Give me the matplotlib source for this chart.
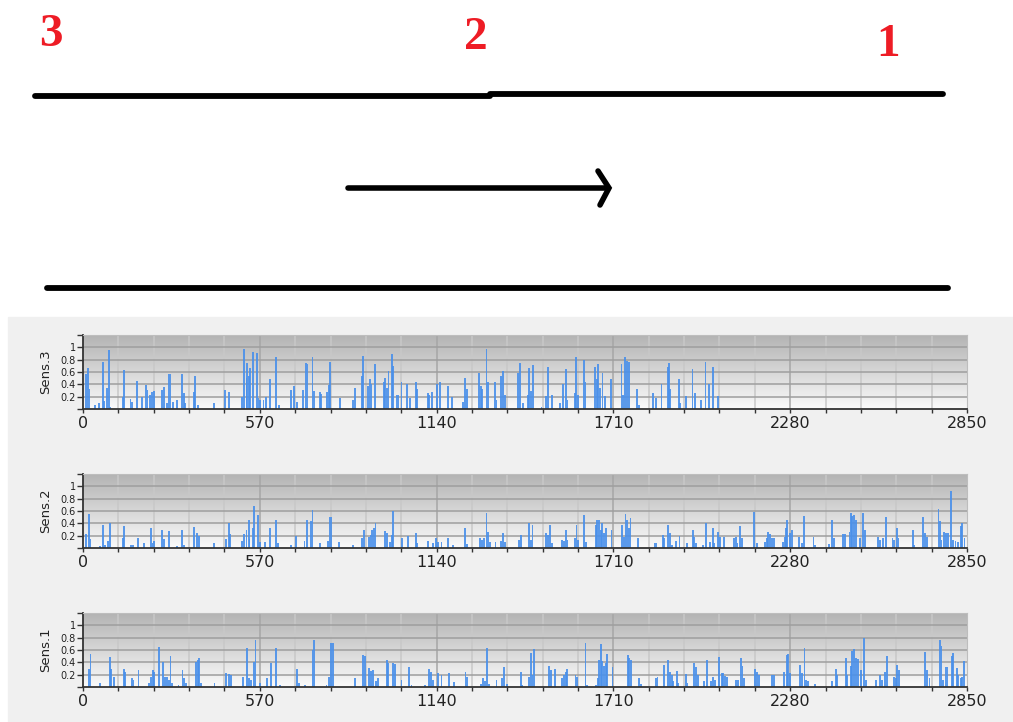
"""Sensor spike panels under a flow sketch (3 -> 2 -> 1)."""

import matplotlib
matplotlib.use("Agg")
import matplotlib.pyplot as plt
import numpy as np

# --- sketch (figure pixel coordinates, y down) ---
pipe_top_left = ([35, 490], [96, 96])
pipe_top_right = ([490, 943], [94, 94])
pipe_bottom = ([47, 948], [288, 288])
arrow_shaft = ([348, 606], [188, 188])
arrow_head = ([598, 609, 600], [171, 188, 205])
station_labels = ["3", "2", "1"]
station_pos = [(51, 35), (476, 38), (888, 45)]

# --- sensor spikes (sample index, amplitude) ---
sens3_x = [11, 15, 21, 40, 51, 64, 69, 77, 84, 88, 129, 131, 153, 158, 174, 190, 203, 208,
           215, 222, 228, 255, 260, 271, 276, 282, 290, 303, 319, 325, 330, 357, 362, 370,
           421, 459, 470, 513, 520, 527, 529, 534, 539, 547, 561, 566, 572, 582, 590, 602,
           623, 631, 671, 679, 690, 708, 720, 724, 740, 744, 763, 768, 787, 792, 797, 828,
           871, 877, 900, 903, 920, 925, 930, 941, 970, 975, 981, 985, 995, 1000, 1011,
           1017, 1027, 1045, 1054, 1073, 1078, 1111, 1116, 1126, 1142, 1151, 1178, 1191,
           1226, 1231, 1237, 1276, 1282, 1287, 1301, 1306, 1328, 1333, 1347, 1353, 1360,
           1403, 1409, 1419, 1435, 1439, 1443, 1452, 1478, 1492, 1500, 1511, 1538, 1548,
           1557, 1562, 1586, 1589, 1597, 1615, 1620, 1650, 1656, 1661, 1667, 1675, 1683,
           1702, 1736, 1742, 1748, 1754, 1760, 1787, 1793, 1838, 1846, 1865, 1885, 1889,
           1892, 1921, 1924, 1944, 1965, 1973, 1992, 2007, 2019, 2032, 2046]
sens3_val = [.56, .67, .32, .07, .1, .77, .13, .34, .95, .04, .2, .64, .17, .12, .45, .2, .39, .31,
             .23, .28, .3, .31, .35, .09, .56, .57, .12, .14, .56, .26, .09, .28, .54, .06,
             .09, .31, .28, .2, .97, .5, .75, .53, .67, .92, .91, .18, .15, .15, .19, .49,
             .84, .06, .31, .37, .12, .31, .75, .73, .84, .3, .28, .25, .28, .39, .77, .18,
             .15, .34, .54, .86, .37, .48, .4, .73, .43, .51, .34, .62, .9, .7, .23,
             .23, .44, .4, .18, .44, .32, .26, .23, .27, .4, .44, .37, .19,
             .12, .51, .32, .58, .37, .33, .98, .43, .44, .15, .54, .62, .23,
             .59, .74, .09, .23, .66, .29, .71, .03, .21, .68, .23, .09, .4,
             .65, .15, .26, .84, .23, .79, .43, .68, .48, .73, .34, .59, .21,
             .48, .73, .23, .84, .78, .77, .32, .07, .26, .18, .4, .68, .74,
             .32, .48, .09, .21, .65, .26, .15, .77, .4, .68, .21]

sens2_x = [11, 18, 24, 56, 64, 70, 80, 86, 129, 133, 156, 161, 176, 196, 219, 224, 230, 255,
           260, 276, 303, 319, 325, 357, 368, 373, 421, 461, 470, 475, 513, 520, 527, 534,
           537, 547, 552, 563, 570, 588, 602, 622, 628, 671, 687, 714, 722, 735, 740, 765,
           789, 797, 801, 826, 871, 900, 906, 923, 927, 932, 938, 943, 975, 981, 989, 995,
           1000, 1029, 1049, 1073, 1078, 1113, 1129, 1138, 1145, 1156, 1178, 1194, 1231,
           1237, 1280, 1287, 1293, 1301, 1306, 1312, 1330, 1347, 1353, 1360, 1406, 1411,
           1438, 1444, 1449, 1492, 1500, 1505, 1513, 1545, 1551, 1557, 1562, 1586, 1591,
           1597, 1616, 1621, 1653, 1658, 1663, 1669, 1674, 1679, 1686, 1704, 1738, 1744,
           1749, 1755, 1760, 1765, 1790, 1844, 1849, 1869, 1873, 1887, 1892, 1898, 1912,
           1923, 1946, 1966, 1971, 1976, 1998, 2009, 2021, 2030, 2035, 2048, 2054, 2067,
           2099, 2104, 2110, 2118, 2124, 2164, 2172, 2199, 2204, 2209, 2215, 2220, 2228,
           2256, 2263, 2266, 2271, 2279, 2287, 2309, 2317, 2324, 2355, 2360, 2406, 2414,
           2422, 2451, 2457, 2471, 2475, 2480, 2486, 2491, 2505, 2516, 2521, 2564, 2570,
           2578, 2588, 2610, 2616, 2623, 2629, 2675, 2680, 2709, 2715, 2720, 2758, 2763,
           2768, 2777, 2782, 2790, 2798, 2806, 2813, 2820, 2830, 2835, 2842]
sens2_val = [.22, .55, .15, .04, .38, .05, .11, .4, .16, .35, .05, .05, .16, .08, .32, .08, .12, .29,
             .14, .27, .04, .3, .05, .34, .25, .2, .08, .14, .4, .23, .11, .22, .3, .46,
             .14, .32, .68, .54, .09, .1, .32, .46, .08, .05, .2, .12, .46, .43, .62, .08,
             .12, .5, .51, .1, .05, .16, .3, .18, .21, .29, .32, .4, .28, .24, .1, .21,
             .6, .16, .19, .24, .08, .12, .08, .16, .1, .1, .16, .05, .32,
             .07, .16, .13, .16, .56, .26, .1, .1, .12, .25, .1, .13, .21,
             .4, .13, .38, .24, .21, .37, .08, .13, .12, .3, .13, .16, .37,
             .13, .54, .1, .37, .46, .45, .29, .4, .24, .32, .29, .37, .18,
             .55, .45, .32, .49, .16, .08, .08, .21, .16, .37, .25, .05, .12,
             .19, .08, .3, .18, .08, .05, .4, .1, .32, .08, .26, .18, .18,
             .16, .18, .08, .36, .16, .58, .08, .1, .16, .26, .23, .16, .16,
             .1, .18, .32, .45, .24, .29, .18, .08, .52, .18, .05, .07, .46,
             .16, .23, .23, .26, .56, .52, .53, .45, .16, .57, .29, .18, .13,
             .16, .5, .16, .13, .32, .16, .3, .05, .51, .24, .18, .64, .43,
             .13, .26, .24, .24, .93, .13, .12, .1, .35, .41, .16]

sens1_x = [18, 24, 56, 86, 91, 99, 131, 136, 158, 163, 179, 212, 219, 225, 230, 246, 257, 263,
           271, 276, 282, 287, 308, 321, 327, 333, 365, 370, 375, 380, 424, 462, 470, 478,
           516, 529, 534, 542, 552, 556, 570, 593, 607, 623, 634, 690, 695, 717, 740, 746,
           785, 794, 800, 805, 877, 903, 909, 923, 928, 934, 944, 950, 979, 984, 1000, 1006,
           1027, 1051, 1059, 1102, 1115, 1121, 1129, 1145, 1156, 1181, 1196, 1233, 1239,
           1282, 1290, 1296, 1303, 1310, 1333, 1352, 1357, 1366, 1411, 1414, 1438, 1443,
           1449, 1455, 1503, 1509, 1521, 1545, 1550, 1556, 1561, 1588, 1593, 1620, 1626,
           1653, 1659, 1663, 1669, 1674, 1679, 1685, 1690, 1707, 1756, 1761, 1766, 1793,
           1798, 1847, 1852, 1874, 1887, 1892, 1898, 1903, 1914, 1919, 1944, 1949, 1971,
           1976, 1984, 2002, 2011, 2025, 2032, 2038, 2050, 2059, 2064, 2070, 2075, 2105,
           2113, 2120, 2126, 2131, 2167, 2172, 2179, 2220, 2229, 2261, 2269, 2274, 2279,
           2312, 2317, 2326, 2331, 2338, 2360, 2414, 2427, 2432, 2459, 2462, 2476, 2480,
           2486, 2491, 2498, 2508, 2518, 2523, 2557, 2570, 2575, 2586, 2591, 2616, 2621,
           2625, 2631, 2715, 2720, 2729, 2763, 2768, 2774, 2781, 2787, 2801, 2806, 2817,
           2822, 2830, 2835, 2840]
sens1_val = [.29, .53, .07, .48, .3, .17, .29, .25, .14, .12, .28, .06, .16, .28, .25, .65, .41, .17,
             .17, .12, .51, .06, .04, .28, .14, .06, .41, .44, .47, .06, .07, .22, .21, .2,
             .17, .64, .14, .12, .41, .76, .07, .14, .39, .64, .04, .3, .07, .04, .6, .77,
             .04, .17, .71, .71, .14, .52, .51, .31, .26, .28, .09, .15, .43, .39, .39, .37,
             .12, .32, .03, .03, .3, .25, .12, .23, .2, .23, .08, .24, .17,
             .05, .15, .09, .64, .05, .12, .15, .32, .05, .25, .04, .17, .55,
             .2, .61, .34, .28, .3, .15, .2, .25, .3, .19, .17, .71, .04,
             .04, .15, .44, .7, .42, .34, .39, .54, .32, .52, .47, .44, .15,
             .05, .14, .16, .36, .43, .24, .2, .09, .26, .06, .21, .06, .39,
             .32, .2, .09, .43, .1, .16, .12, .48, .23, .22, .18, .16, .12,
             .12, .47, .34, .14, .3, .25, .2, .19, .19, .25, .52, .54, .22,
             .35, .23, .63, .12, .09, .05, .1, .3, .2, .47, .2, .34, .59,
             .62, .47, .46, .28, .8, .12, .12, .19, .12, .24, .51, .17, .15,
             .36, .28, .56, .28, .15, .77, .66, .12, .32, .32, .5, .55, .31,
             .2, .15, .17, .42]

panels = [("Sens.3", sens3_x, sens3_val, 335),
          ("Sens.2", sens2_x, sens2_val, 474),
          ("Sens.1", sens1_x, sens1_val, 613)]

W, H = 1013, 722
fig = plt.figure(figsize=(W / 100, H / 100), dpi=100)
fig.patch.set_facecolor("white")

# sketch layer in pixel coordinates
bg = fig.add_axes([0, 0, 1, 1])
bg.set_xlim(0, W)
bg.set_ylim(H, 0)
bg.axis("off")
bg.add_patch(plt.Rectangle((8, 317), W - 8, H - 317, color="#f0f0f0", zorder=0))
for xs, ys in (pipe_top_left, pipe_top_right, pipe_bottom):
    bg.plot(xs, ys, color="black", lw=4.2, solid_capstyle="round")
bg.plot(*arrow_shaft, color="black", lw=4, solid_capstyle="round")
bg.plot(*arrow_head, color="black", lw=4, solid_capstyle="round", solid_joinstyle="miter")
for lab, (x, y) in zip(station_labels, station_pos):
    bg.text(x, y, lab, color="#ee1c25", fontsize=34, fontweight="bold",
            family=["Liberation Serif", "DejaVu Serif"], ha="center", va="center")

grad = np.linspace(0, 1, 256).reshape(-1, 1)
grad_cmap = matplotlib.colors.LinearSegmentedColormap.from_list("g", ["#fbfbfb", "#b3b3b3"])

for name, xs, vals, top in panels:
    ax = fig.add_axes([83 / W, 1 - (top + 74) / H, 884 / W, 74 / H])
    ax.imshow(grad, cmap=grad_cmap, aspect="auto", origin="lower",
              extent=(0, 2850, 0, 1.2), zorder=0)
    ax.set_xlim(0, 2850)
    ax.set_ylim(0, 1.2)
    for gx in np.arange(114, 2850, 114):
        c = "#a6a6a6" if gx % 570 == 0 else "#c8c8c8"
        ax.axvline(gx, color=c, lw=1.1, zorder=1)
    for gy in np.arange(0.2, 1.2, 0.2):
        ax.axhline(gy, color="#9e9e9e", lw=1.1, zorder=1)
    ax.bar(xs, vals, width=6, color="#4a90ea", alpha=0.9, lw=0, zorder=2)

    ax.set_xticks(np.arange(0, 2851, 570))
    ax.set_xticks(np.arange(0, 2851, 114), minor=True)
    ax.set_yticks(np.arange(0, 1.21, 0.2))
    ax.set_yticklabels(["", "0.2", "0.4", "0.6", "0.8", "1", ""])
    ax.tick_params(axis="x", which="both", direction="out", length=3, width=1,
                   color="#333333", labelsize=11.5, pad=2)
    ax.tick_params(axis="y", direction="out", length=4, width=1, color="#333333",
                   labelsize=7, pad=1)
    for lbl in ax.get_xticklabels() + ax.get_yticklabels():
        lbl.set_color("#222222")
    ax.set_ylabel(name, fontsize=9.5, labelpad=6, color="#222222")
    ax.spines["left"].set_color("#333333")
    ax.spines["bottom"].set_color("#333333")
    ax.spines["left"].set_linewidth(1.3)
    ax.spines["bottom"].set_linewidth(1.3)
    ax.spines["top"].set_color("#bdbdbd")
    ax.spines["right"].set_color("#bdbdbd")

fig.savefig("out.png", dpi=100)
plt.close(fig)
